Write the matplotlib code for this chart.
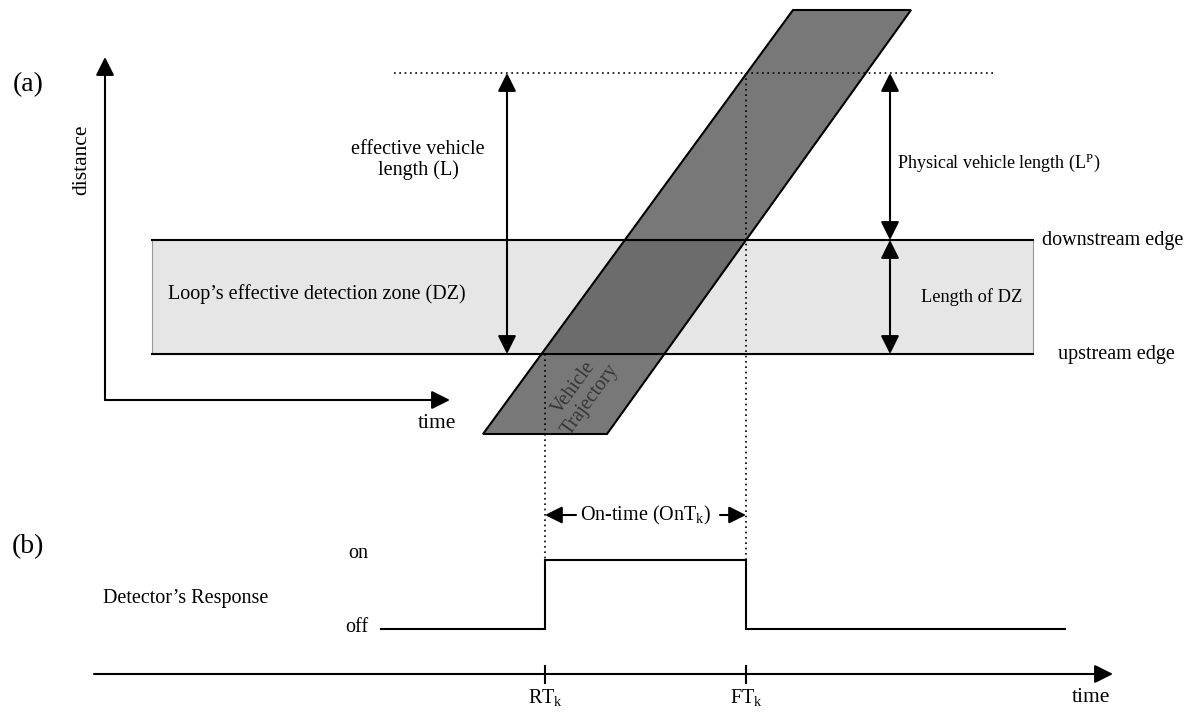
import matplotlib
matplotlib.use("Agg")
import matplotlib.pyplot as plt
from matplotlib.patches import Polygon, Rectangle

plt.rcParams['font.family'] = ['Liberation Serif', 'DejaVu Serif']
plt.rcParams['mathtext.fontset'] = 'custom'
plt.rcParams['mathtext.rm'] = 'Liberation Serif'
plt.rcParams['mathtext.it'] = 'Liberation Serif:italic'

# ---- diagram geometry (pixel space of the reference) ----
dz_x = [152, 1033]          # detection zone left / right
dz_y = [240, 354]           # downstream edge / upstream edge
traj_bottom_x = [483, 607]
traj_top_x = [793, 911]
traj_y = [434, 10]          # bottom, top of trajectory band
top_ref_y = 73              # dotted reference line (vehicle front)
top_ref_x = [394, 996]
rt_x, ft_x = 545, 746       # rise / fall times
on_y, off_y = 560, 629
step_times = [381, 545, 545, 746, 746, 1065]
step_states = [0, 0, 1, 1, 0, 0]
L_arrow_x = 507
phys_arrow_x = 890
ontime_y = 515

fig = plt.figure(figsize=(11.91, 7.13), dpi=100)
ax = fig.add_axes([0, 0, 1, 1])
ax.set_xlim(0, 1191)
ax.set_ylim(713, 0)
ax.axis('off')

FS = 14.5
LW = 1.5


def arrow(x0, y0, x1, y1, both=False, ms=28):
    style = '<|-|>' if both else '-|>'
    ax.annotate('', xy=(x1, y1), xytext=(x0, y0),
                arrowprops=dict(arrowstyle=style + ',head_length=0.4,head_width=0.2',
                                lw=LW, color='k', mutation_scale=ms,
                                shrinkA=0, shrinkB=0))

# ---- (a) space-time diagram ----
ax.add_patch(Rectangle((dz_x[0], dz_y[0]), dz_x[1] - dz_x[0], dz_y[1] - dz_y[0],
                       facecolor='#e6e6e6', edgecolor='#999999', lw=0.8, zorder=1))
ax.plot(dz_x, [dz_y[0]] * 2, color='k', lw=LW, zorder=2)
ax.plot(dz_x, [dz_y[1]] * 2, color='k', lw=LW, zorder=2)

poly = Polygon([(traj_bottom_x[0], traj_y[0]), (traj_bottom_x[1], traj_y[0]),
                (traj_top_x[1], traj_y[1]), (traj_top_x[0], traj_y[1])],
               closed=True, facecolor=(0, 0, 0, 0.53), edgecolor='k', lw=LW, zorder=3)
ax.add_patch(poly)

# axes of diagram (a)
arrow(105, 400, 105, 57)
arrow(105, 400, 450, 400)
ax.text(82, 160, 'distance', rotation=90, ha='center', va='center', fontsize=15.5)
ax.text(437, 423, 'time', ha='center', va='center', fontsize=15.5)
ax.text(28, 85, '(a)', ha='center', va='center', fontsize=20)

# dotted reference lines
dot = (0, (1, 2.2))
ax.plot(top_ref_x, [top_ref_y] * 2, color='k', lw=1.2, ls=dot, zorder=4)
ax.plot([rt_x, rt_x], [dz_y[1], on_y], color='k', lw=1.2, ls=dot, zorder=4)
ax.plot([ft_x, ft_x], [top_ref_y, on_y], color='k', lw=1.2, ls=dot, zorder=4)

# dimension arrows
arrow(L_arrow_x, top_ref_y, L_arrow_x, dz_y[1], both=True)
arrow(phys_arrow_x, top_ref_y, phys_arrow_x, dz_y[0], both=True)
arrow(phys_arrow_x, dz_y[0], phys_arrow_x, dz_y[1], both=True)

ax.text(418, 160, 'effective vehicle\nlength (L)', ha='center', va='center',
        fontsize=FS, linespacing=1.15)
ax.text(897, 163, 'Physical vehicle length (L$^{\\mathrm{P}}$)', ha='left', va='center',
        fontsize=13)
ax.text(168, 294, 'Loop\u2019s effective detection zone (DZ)', ha='left', va='center',
        fontsize=FS)
ax.text(1022, 297, 'Length of DZ', ha='right', va='center', fontsize=13.2)
ax.text(1042, 240, 'downstream edge', ha='left', va='center', fontsize=FS)
ax.text(1058, 354, 'upstream edge', ha='left', va='center', fontsize=FS)
ax.text(582, 394, 'Vehicle\nTrajectory', rotation=54, ha='center', va='center',
        rotation_mode='anchor', fontsize=FS, color='#363636', linespacing=1.1, zorder=5)

# ---- (b) detector response ----
ax.text(28, 547, '(b)', ha='center', va='center', fontsize=20)
ax.text(358, 553, 'on', ha='center', va='center', fontsize=FS)
ax.text(357, 628, 'off', ha='center', va='center', fontsize=FS)
ax.text(103, 598, 'Detector\u2019s Response', ha='left', va='center', fontsize=FS)

step_y = [on_y if s else off_y for s in step_states]
ax.plot(step_times, step_y, color='k', lw=LW, solid_joinstyle='miter')

# on-time arrows and label
arrow(576, ontime_y, rt_x, ontime_y, ms=26)
arrow(720, ontime_y, ft_x, ontime_y, ms=26)
ax.text(646, ontime_y, 'On-time (OnT$_{\\mathrm{k}}$)', ha='center', va='center', fontsize=FS)

# time axis
arrow(94, 674, 1113, 674)
for tx in (rt_x, ft_x):
    ax.plot([tx, tx], [666, 683], color='k', lw=LW)
ax.text(rt_x, 698, 'RT$_{\\mathrm{k}}$', ha='center', va='center', fontsize=FS)
ax.text(ft_x, 698, 'FT$_{\\mathrm{k}}$', ha='center', va='center', fontsize=FS)
ax.text(1091, 697, 'time', ha='center', va='center', fontsize=15.5)

fig.savefig('out.png', dpi=100)
